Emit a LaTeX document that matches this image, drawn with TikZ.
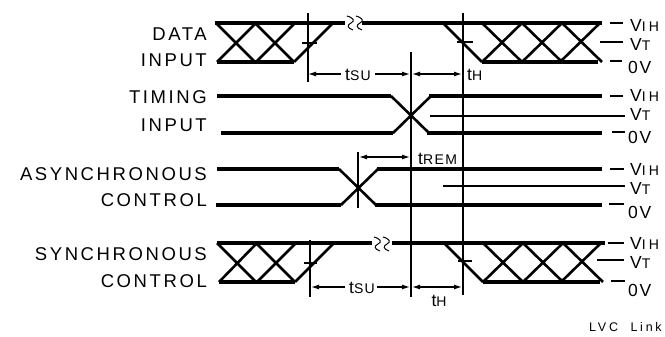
\documentclass[tikz,border=0pt]{standalone}
\usepackage{fontspec}
\setmainfont{Liberation Sans}
\newfontfamily\labfont[LetterSpace=14]{Liberation Sans}
\newfontfamily\valfont[LetterSpace=10]{Liberation Sans}
\newfontfamily\widefont[LetterSpace=22]{Liberation Sans}
\newfontfamily\smallfont[LetterSpace=22]{Liberation Sans}
\usetikzlibrary{arrows.meta}
\newcommand\smcap[1]{{\fontsize{14}{14}\selectfont #1}}
\begin{document}
\begin{tikzpicture}[x=1pt,y=-1pt,
 sig/.style={line width=3.6pt},
 xl/.style={line width=2.6pt},
 thin/.style={line width=1.2pt},
 lab/.style={anchor=east,inner sep=0pt,font=\labfont\fontsize{18.5}{20}\selectfont},
 vl/.style={anchor=west,inner sep=0pt,font=\valfont\fontsize{17.5}{20}\selectfont},
 vw/.style={anchor=west,inner sep=0pt,font=\widefont\fontsize{17.5}{20}\selectfont},
 tl/.style={inner sep=0pt,font=\valfont\fontsize{17.5}{20}\selectfont},
 ar/.style={thin,-{Latex[length=8pt,width=5pt]}},
 dar/.style={thin,{Latex[length=8pt,width=5pt]}-{Latex[length=8pt,width=5pt]}},
 brk/.style={line width=1pt},
]
\useasboundingbox (0,0) rectangle (665,337);

% ---------- left labels ----------
\node[lab] (l1) at (207,34) {DATA};
\node[lab] (l2) at (207,60) {INPUT};
\node[lab] (l3) at (207,97) {TIMING};
\node[lab] (l4) at (207,125) {INPUT};
\node[lab] (l5) at (207,174) {ASYNCHRONOUS};
\node[lab] (l6) at (207,200) {CONTROL};
\node[lab] (l7) at (207,254) {SYNCHRONOUS};
\node[lab] (l8) at (207,281) {CONTROL};

% ---------- DATA INPUT ----------
\draw[sig] (215,23) -- (345,23);
\draw[sig] (362,23) -- (602,23);
\draw[sig] (217,62) -- (294,62);
\draw[sig] (482,62) -- (598,62);
\draw[xl] (216,23) -- (255,62) (217,62) -- (256,23)
          (255,23) -- (294,62) (256,62) -- (295,23)
          (294,62) -- (333,23);
\draw[xl] (443,23) -- (482,62);
\draw[xl] (482,23) -- (522,62) (482,62) -- (522,23)
          (522,23) -- (562,62) (522,62) -- (562,23)
          (562,23) -- (602,62) (560,62) -- (600,23);
\draw[brk] (347,16) .. controls (354,18) and (355,21) .. (351,23) .. controls (347,25) and (347,28) .. (353,30);
\draw[brk] (356,16) .. controls (363,18) and (364,21) .. (360,23) .. controls (356,25) and (356,28) .. (362,30);

% ---------- TIMING INPUT ----------
\draw[sig] (217,96) -- (391,96);
\draw[sig] (221,133) -- (393,133);
\draw[sig] (429,96) -- (602,96);
\draw[sig] (427,133) -- (602,133);
\draw[xl] (391,96) -- (429,133) (393,133) -- (431,96);
\draw[thin] (430,116) -- (625,116);

% ---------- ASYNCHRONOUS CONTROL ----------
\draw[sig] (217,169) -- (339,169);
\draw[sig] (216,205) -- (341,205);
\draw[sig] (377,169) -- (602,169);
\draw[sig] (375,205) -- (602,205);
\draw[xl] (339,169) -- (376,205) (341,205) -- (378,169);
\draw[thin] (443,186) -- (625,186);

% ---------- SYNCHRONOUS CONTROL ----------
\draw[sig] (217,243) -- (372,243);
\draw[sig] (392,243) -- (605,243);
\draw[sig] (219,282) -- (295,282);
\draw[sig] (483,282) -- (600,282);
\draw[xl] (217,243) -- (256,282) (219,282) -- (257,243)
          (256,243) -- (295,282) (257,282) -- (296,243)
          (295,282) -- (334,243);
\draw[xl] (444,243) -- (483,282);
\draw[xl] (483,243) -- (523,282) (483,282) -- (523,243)
          (523,243) -- (563,282) (523,282) -- (563,243)
          (563,243) -- (603,282) (561,282) -- (601,243);
\draw[brk] (374,237) .. controls (381,239) and (382,242) .. (378,244) .. controls (374,246) and (374,249) .. (380,251);
\draw[brk] (383,237) .. controls (390,239) and (391,242) .. (387,244) .. controls (383,246) and (383,249) .. (389,251);

% ---------- vertical reference lines ----------
\coordinate (a1) at (308,13); \coordinate (a2) at (308,82);
\coordinate (b1) at (411,52); \coordinate (b2) at (411,297);
\coordinate (c1) at (463,13); \coordinate (c2) at (463,295);
\coordinate (d1) at (358,152); \coordinate (d2) at (358,208);
\coordinate (e1) at (310,240); \coordinate (e2) at (310,297);
\draw[thin] (a1) -- (a2);
\draw[thin] (b1) -- (b2);
\draw[thin] (c1) -- (c2);
\draw[thin] (d1) -- (d2);
\draw[thin] (e1) -- (e2);
% VT ticks on verticals
\draw[thin] (302,43) -- (317,43);
\draw[thin] (457,42) -- (473,42);
\draw[thin] (304,263) -- (317,263);
\draw[thin] (458,261) -- (472,261);

% ---------- timing annotations ----------
\node[tl] (tsu1) at (358,75) {t\smcap{SU}};
\draw[ar] (tsu1.west) ++(-4,-1) -- (a1 |- 0,74);
\draw[ar] (tsu1.east) ++(4,-1) -- (410,74);
\draw[dar] (412,74) -- (462,74);
\node[tl,anchor=west] (th1) at (467,75) {t\smcap{H}};

\draw[dar] (359,157) -- (410,157);
\node[tl,anchor=west] (trem) at (418,159) {t\smcap{REM}};

\node[tl] (tsu2) at (362,288) {t\smcap{SU}};
\draw[ar] (tsu2.west) ++(-4,-1) -- (311,287);
\draw[ar] (tsu2.east) ++(2,-1) -- (410,287);
\draw[dar] (412,287) -- (462,287);
\node[tl] (th2) at (439,301) {t\smcap{H}};

% ---------- right level labels ----------
\draw[thin] (610,23) -- (623,23);  \node[vw] (r1) at (630,25) {V\smcap{IH}};
\draw[thin] (600,42) -- (623,42);  \node[vw] (r2) at (630,44) {V\smcap{T}};
\draw[thin] (610,61) -- (622,61);  \node[vl] (r3) at (628,67) {0V};

\draw[thin] (610,96) -- (623,96);  \node[vw] (r4) at (630,95) {V\smcap{IH}};
                                   \node[vw] (r5) at (630,114) {V\smcap{T}};
\draw[thin] (612,132) -- (625,132); \node[vl] (r6) at (628,137) {0V};

\draw[thin] (610,169) -- (624,169); \node[vw] (r7) at (630,169) {V\smcap{IH}};
                                    \node[vw] (r8) at (630,188) {V\smcap{T}};
\draw[line width=2.4pt] (609,204) -- (624,204); \node[vl] (r9) at (628,212) {0V};

\draw[thin] (608,243) -- (624,243); \node[vw] (r10) at (630,243) {V\smcap{IH}};
\draw[thin] (597,260) -- (624,260); \node[vw] (r11) at (630,262) {V\smcap{T}};
\draw[thin] (611,281) -- (625,281); \node[vl] (r12) at (628,290) {0V};

\node[anchor=west,inner sep=0pt,font=\smallfont\fontsize{12.5}{14}\selectfont] (lvc) at (589,327) {LVC\ \ Link};
\end{tikzpicture}
\end{document}
